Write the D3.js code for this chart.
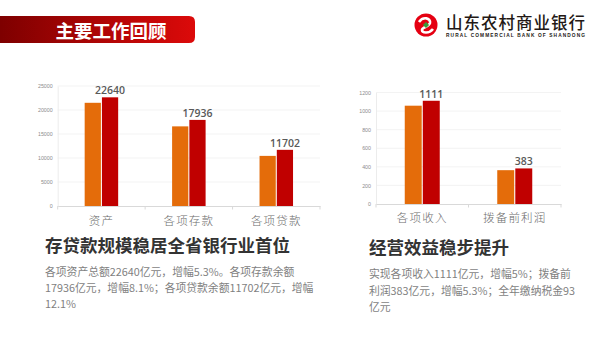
<!DOCTYPE html>
<html><head><meta charset="utf-8">
<script src="https://cdn.jsdelivr.net/npm/d3@7"></script>
<style>
html,body{margin:0;padding:0;background:#fff;}
svg{display:block;font-family:"Noto Sans CJK SC","Noto Sans",sans-serif;}
</style></head>
<body>
<script>
// ---- data ----
const leftCategories = ["资产", "各项存款", "各项贷款"];
const leftPrev = [21500, 16590, 10440];
const leftCurr = [22640, 17936, 11702];
const leftTicks = [0, 5000, 10000, 15000, 20000, 25000];

const rightCategories = ["各项收入", "拨备前利润"];
const rightPrev = [1058, 364];
const rightCurr = [1111, 383];
const rightTicks = [0, 200, 400, 600, 800, 1000, 1200];

const pageTitle = "主要工作回顾";
const bankName = "山东农村商业银行";
const bankNameEn = "RURAL COMMERCIAL BANK OF SHANDONG";
const leftHeadline = "存贷款规模稳居全省银行业首位";
const leftLines = ["各项资产总额22640亿元，增幅5.3%。各项存款余额", "17936亿元，增幅8.1%；各项贷款余额11702亿元，增幅", "12.1%"];
const rightHeadline = "经营效益稳步提升";
const rightLines = ["实现各项收入1111亿元，增幅5%；拨备前", "利润383亿元，增幅5.3%；全年缴纳税金93", "亿元"];

const W = 598, H = 337;
const svg = d3.select("body").append("svg").attr("width", W).attr("height", H);
const defs = svg.append("defs");
const grad = defs.append("linearGradient").attr("id", "hdr").attr("x1", 0).attr("x2", 1);
grad.append("stop").attr("offset", "0%").attr("stop-color", "#7e0000");
grad.append("stop").attr("offset", "100%").attr("stop-color", "#dc0a0a");

// header bar
const hx = 0, hy = 16, hw = 195, hh = 27, r = 6;
svg.append("path")
  .attr("d", `M${hx},${hy} H${hw - r} Q${hw},${hy} ${hw},${hy + r} V${hy + hh - r} Q${hw},${hy + hh} ${hw - r},${hy + hh} H${hx} Z`)
  .attr("fill", "url(#hdr)");
svg.append("text").attr("x", 111).attr("y", 38.3).attr("text-anchor", "middle")
  .attr("fill", "#fff").attr("font-size", 18.5).attr("font-weight", 700).text(pageTitle);

// logo
const lg = svg.append("g").attr("transform", "translate(426,25)");
lg.append("circle").attr("r", 11.5).attr("fill", "#e50012");
lg.append("path").attr("d", "M-7,-3 C-3,-9 5,-7 4,-2 C3,2 -4,2 -4,5 C-4,8 3,9 7,4")
  .attr("fill", "none").attr("stroke", "#fff").attr("stroke-width", 2.6);
lg.append("rect").attr("x", -2.2).attr("y", -2.2).attr("width", 4.4).attr("height", 4.4)
  .attr("transform", "rotate(45)").attr("fill", "#3a9a3a");
svg.append("text").attr("x", 446).attr("y", 29).attr("font-size", 16.5).attr("font-weight", 500).attr("fill", "#231815")
  .attr("textLength", 139).attr("lengthAdjust", "spacing").text(bankName);
svg.append("text").attr("x", 446).attr("y", 37.3).attr("font-size", 4.8).attr("font-weight", 700)
  .attr("fill", "#231815").attr("font-family", "Liberation Sans, sans-serif")
  .attr("textLength", 139).attr("lengthAdjust", "spacing").text(bankNameEn);

const orange = "#e46c0a", red = "#c00000";

function drawChart(cfg) {
  const g = svg.append("g");
  const y = d3.scaleLinear().domain([0, cfg.max]).range([cfg.y0, cfg.y1]);
  const x = d3.scaleBand().domain(cfg.cats).range([cfg.x0, cfg.x1]).padding(0);
  const sub = d3.scaleBand().domain(["prev", "curr"]).range([0, cfg.groupW]).paddingInner(0.06);
  // grid
  g.append("g").selectAll("line").data(cfg.ticks.slice(1)).join("line")
    .attr("x1", cfg.x0).attr("x2", cfg.x1).attr("y1", d => y(d)).attr("y2", d => y(d))
    .attr("stroke", "#f0f0f0").attr("stroke-width", 0.8);
  // y axis
  const ya = d3.axisLeft(y).tickValues(cfg.ticks).tickFormat(d3.format("d")).tickSize(0).tickPadding(5);
  const yg = g.append("g").attr("transform", `translate(${cfg.x0},0)`).call(ya);
  yg.select(".domain").attr("stroke", "#ececec");
  yg.selectAll("text").attr("font-size", 5.3).attr("fill", "#8c8c8c")
    .attr("font-family", "Liberation Sans, sans-serif");
  // bars
  const data = cfg.cats.map((c, i) => ({ c, prev: cfg.prev[i], curr: cfg.curr[i] }));
  const grp = g.append("g").selectAll("g").data(data).join("g")
    .attr("transform", d => `translate(${x(d.c) + x.bandwidth() / 2 - cfg.groupW / 2},0)`);
  grp.append("rect").attr("x", sub("prev")).attr("width", sub.bandwidth())
    .attr("y", d => y(d.prev)).attr("height", d => y(0) - y(d.prev)).attr("fill", orange);
  grp.append("rect").attr("x", sub("curr")).attr("width", sub.bandwidth())
    .attr("y", d => y(d.curr)).attr("height", d => y(0) - y(d.curr)).attr("fill", red);
  grp.append("text").attr("x", sub("curr") + sub.bandwidth() / 2)
    .attr("y", d => y(d.curr) - 3).attr("text-anchor", "middle")
    .attr("font-size", 10.5).attr("font-weight", 600).attr("fill", "#595959")
    .attr("font-family", "Open Sans, sans-serif").text(d => d.curr);
  // x axis
  const xa = d3.axisBottom(x).tickSize(0).tickPadding(cfg.labelPad);
  const xg = g.append("g").attr("transform", `translate(0,${cfg.y0})`).call(xa);
  xg.select(".domain").attr("stroke", "#d9d9d9").attr("stroke-width", 1);
  xg.selectAll("text").attr("font-size", 11.5).attr("fill", "#6b6b6b").attr("font-weight", 300)
    .attr("letter-spacing", 1.2).attr("font-family", "Noto Sans CJK SC, sans-serif");
  const bounds = [cfg.x0, ...cfg.cats.map(c => x(c) + x.bandwidth())];
  xg.selectAll("line.sep").data(bounds).join("line").attr("class", "sep")
    .attr("x1", d => d).attr("x2", d => d).attr("y1", 0).attr("y2", 3.5)
    .attr("stroke", "#d9d9d9");
}

drawChart({ cats: leftCategories, prev: leftPrev, curr: leftCurr, ticks: leftTicks, max: 25000,
  x0: 57.7, x1: 320, y0: 206, y1: 86, groupW: 33.5, labelPad: 11 });
drawChart({ cats: rightCategories, prev: rightPrev, curr: rightCurr, ticks: rightTicks, max: 1200,
  x0: 376, x1: 561, y0: 204, y1: 92.5, groupW: 35, labelPad: 9.5 });

// text blocks
function textBlock(x, yHead, head, yLines, lines) {
  svg.append("text").attr("x", x).attr("y", yHead).attr("font-size", 17.5).attr("font-weight", 700)
    .attr("fill", "#333").text(head);
  svg.append("g").selectAll("text").data(lines).join("text")
    .attr("x", x).attr("y", (d, i) => yLines[i]).attr("font-size", 10.8).attr("fill", "#7f7f7f").text(d => d);
}
textBlock(45, 251.5, leftHeadline, [275.5, 291.5, 307.5], leftLines);
textBlock(369, 254, rightHeadline, [277.5, 294.5, 310.5], rightLines);
</script>
</body></html>
